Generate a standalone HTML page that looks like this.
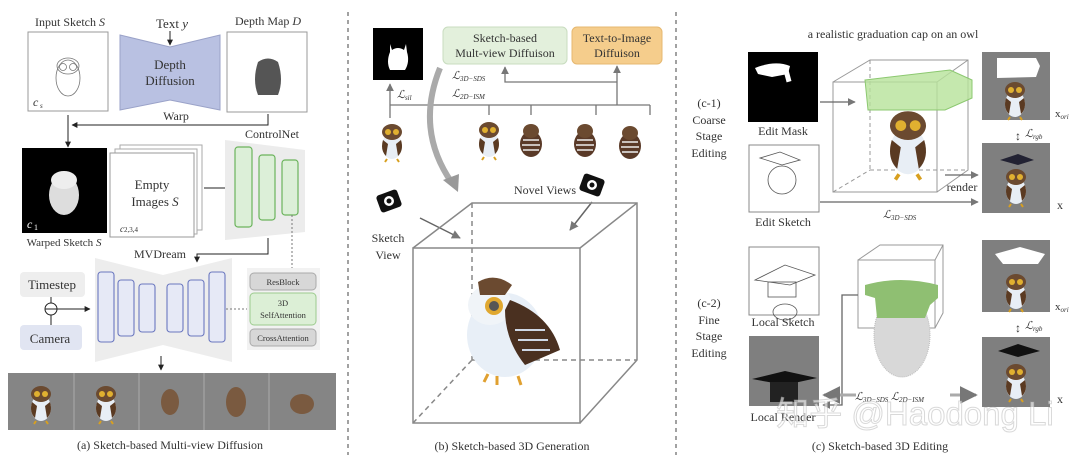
<!DOCTYPE html>
<html><head><meta charset="utf-8"><style>
body{margin:0;background:#fff;width:1080px;height:462px;overflow:hidden}
svg{display:block}
text{font-family:"Liberation Serif",serif;fill:#333}
</style></head><body>
<svg width="1080" height="462" viewBox="0 0 1080 462" xmlns="http://www.w3.org/2000/svg">
<defs>
<marker id="ar" viewBox="0 0 10 10" refX="9" refY="5" markerWidth="6" markerHeight="6" orient="auto"><path d="M0,0L10,5L0,10z" fill="#222"/></marker>
<marker id="ag" viewBox="0 0 10 10" refX="9" refY="5" markerWidth="6" markerHeight="6" orient="auto"><path d="M0,0L10,5L0,10z" fill="#777"/></marker>
<g id="owl">
<ellipse cx="0" cy="6" rx="10" ry="13" fill="#e8eef5"/>
<ellipse cx="0" cy="-8" rx="10" ry="8" fill="#6b4a30"/>
<circle cx="-4" cy="-8" r="3" fill="#e0b030"/><circle cx="4" cy="-8" r="3" fill="#e0b030"/>
<path d="M-9,0 Q-12,10 -6,16 L-4,4z" fill="#5a3a22"/><path d="M9,0 Q12,10 6,16 L4,4z" fill="#5a3a22"/>
<path d="M-5,19 l-2,3 M5,19 l2,3" stroke="#d8a020" stroke-width="2"/>
</g>
<g id="owlb">
<ellipse cx="0" cy="4" rx="11" ry="13" fill="#5a3a28"/>
<path d="M-8,0 h16 M-9,5 h18 M-8,10 h16" stroke="#eee" stroke-width="1.5"/>
<ellipse cx="0" cy="-9" rx="8" ry="7" fill="#6b4a30"/>
</g>
</defs>

<line x1="348" y1="12" x2="348" y2="455" stroke="#444" stroke-dasharray="4,4"/>
<line x1="676" y1="12" x2="676" y2="455" stroke="#444" stroke-dasharray="4,4"/>

<!-- ===== Panel (a) ===== -->
<text x="70" y="26" font-size="12" text-anchor="middle">Input Sketch <tspan font-style="italic">S</tspan></text>
<rect x="28" y="32" width="80" height="79" fill="#fff" stroke="#999"/>
<g fill="none" stroke="#777" stroke-width="0.8">
<ellipse cx="68" cy="78" rx="12" ry="18"/><ellipse cx="68" cy="66" rx="11" ry="8"/>
<circle cx="63" cy="67" r="3.5"/><circle cx="73" cy="67" r="3.5"/></g>
<text x="33" y="106" font-size="12" font-style="italic">c</text><text x="40" y="108" font-size="7" font-style="italic">s</text>

<text x="172" y="28" font-size="13" text-anchor="middle">Text <tspan font-style="italic">y</tspan></text>
<line x1="170" y1="31" x2="170" y2="45" stroke="#222" marker-end="url(#ar)"/>
<path d="M120,35 L170,47 L220,35 L220,110 L170,100 L120,110Z" fill="#b9c1e2" stroke="#9aa2c8"/>
<text x="170" y="69" font-size="13" text-anchor="middle">Depth</text>
<text x="170" y="85" font-size="13" text-anchor="middle">Diffusion</text>

<text x="268" y="25" font-size="12" text-anchor="middle">Depth Map <tspan font-style="italic">D</tspan></text>
<rect x="227" y="32" width="80" height="80" fill="#fff" stroke="#999"/>
<path d="M258,62 Q268,55 278,62 Q284,80 278,95 L258,95 Q252,80 258,62Z" fill="#555"/>

<text x="176" y="120" font-size="12" text-anchor="middle">Warp</text>
<polyline points="268,114 268,125 72,125" fill="none" stroke="#222" marker-end="url(#ar)"/>
<line x1="68" y1="115" x2="68" y2="147" stroke="#222" marker-end="url(#ar)"/>

<rect x="22" y="148" width="85" height="85" fill="#000"/>
<ellipse cx="64" cy="195" rx="15" ry="20" fill="#ddd"/><ellipse cx="64" cy="180" rx="13" ry="9" fill="#eee"/>
<text x="27" y="228" font-size="12" style="fill:#fff" font-style="italic">c</text><text x="34" y="230" font-size="8" style="fill:#fff">1</text>
<text x="64" y="246" font-size="11" text-anchor="middle">Warped Sketch <tspan font-style="italic">S</tspan></text>

<rect x="120" y="145" width="82" height="85" fill="#fff" stroke="#aaa"/>
<rect x="115" y="149" width="82" height="85" fill="#fff" stroke="#aaa"/>
<rect x="110" y="153" width="84" height="84" fill="#fff" stroke="#999"/>
<text x="152" y="189" font-size="13" text-anchor="middle">Empty</text>
<text x="155" y="206" font-size="13" text-anchor="middle">Images <tspan font-style="italic">S</tspan></text>
<text x="120" y="232" font-size="9" font-style="italic">c<tspan font-size="7" font-style="normal">2,3,4</tspan></text>
<line x1="204" y1="188" x2="231" y2="188" stroke="#222" marker-end="url(#ar)"/>

<text x="272" y="138" font-size="12" text-anchor="middle">ControlNet</text>
<path d="M225,140 L305,150 L305,232 L225,240Z" fill="#ececec"/>
<g fill="#dcefd8" stroke="#6bb35c" stroke-width="1.2">
<rect x="235" y="147" width="17" height="80" rx="3"/><rect x="259" y="155" width="16" height="65" rx="3"/><rect x="282" y="160" width="16" height="55" rx="3"/></g>
<polyline points="268,238 268,254 197,254 197,262" fill="none" stroke="#222" marker-end="url(#ar)"/>
<text x="160" y="258" font-size="12" text-anchor="middle">MVDream</text>
<line x1="292" y1="215" x2="292" y2="268" stroke="#777" stroke-dasharray="2,2"/>

<path d="M95,258 L163,275 L232,258 L232,362 L163,345 L95,362Z" fill="#ededed"/>
<g fill="#e6e9f6" stroke="#6b78bf" stroke-width="1.1">
<rect x="98" y="272" width="16" height="70" rx="3"/><rect x="118" y="280" width="16" height="56" rx="3"/><rect x="139" y="284" width="16" height="48" rx="3"/>
<rect x="167" y="284" width="16" height="48" rx="3"/><rect x="188" y="280" width="16" height="56" rx="3"/><rect x="209" y="272" width="16" height="70" rx="3"/></g>
<rect x="20" y="272" width="65" height="25" rx="4" fill="#eee"/>
<text x="52" y="289" font-size="13" text-anchor="middle">Timestep</text>
<rect x="20" y="325" width="62" height="25" rx="4" fill="#e1e5f2"/>
<text x="50" y="343" font-size="13" text-anchor="middle">Camera</text>
<line x1="51" y1="297" x2="51" y2="325" stroke="#222"/>
<circle cx="51" cy="309" r="6" fill="#fff" stroke="#222"/>
<line x1="45" y1="309" x2="57" y2="309" stroke="#222"/>
<line x1="57" y1="309" x2="90" y2="309" stroke="#222" marker-end="url(#ar)"/>
<line x1="226" y1="309" x2="248" y2="309" stroke="#777" stroke-dasharray="2,2"/>
<rect x="247" y="268" width="73" height="82" fill="#f2f2f2"/>
<rect x="250" y="273" width="66" height="17" rx="4" fill="#d7d7d7" stroke="#aaa"/>
<text x="283" y="285" font-size="8.5" text-anchor="middle">ResBlock</text>
<rect x="250" y="293" width="66" height="32" rx="4" fill="#dcefd6" stroke="#9ccb8e"/>
<text x="283" y="306" font-size="8.5" text-anchor="middle">3D</text>
<text x="283" y="318" font-size="8.5" text-anchor="middle">SelfAttention</text>
<rect x="250" y="329" width="66" height="17" rx="4" fill="#d7d7d7" stroke="#aaa"/>
<text x="283" y="341" font-size="8.5" text-anchor="middle">CrossAttention</text>
<line x1="161" y1="356" x2="161" y2="370" stroke="#222" marker-end="url(#ar)"/>

<rect x="8" y="373" width="328" height="57" fill="#858585"/>
<g stroke="#aaa"><line x1="74" y1="373" x2="74" y2="430"/><line x1="139" y1="373" x2="139" y2="430"/><line x1="204" y1="373" x2="204" y2="430"/><line x1="269" y1="373" x2="269" y2="430"/></g>
<use href="#owl" x="41" y="402"/>
<use href="#owl" x="106" y="402"/>
<g fill="#7a5a40"><ellipse cx="170" cy="402" rx="9" ry="13"/><ellipse cx="236" cy="402" rx="10" ry="15"/><ellipse cx="302" cy="404" rx="12" ry="10"/></g>
<text x="170" y="449" font-size="12" text-anchor="middle">(a) Sketch-based Multi-view Diffusion</text>

<!-- ===== Panel (b) ===== -->
<rect x="373" y="28" width="50" height="52" fill="#000"/>
<path d="M390,44 l2,6 Q398,46 404,50 l2,-6 l1,8 Q410,62 405,70 l-15,0 Q386,62 390,52Z" fill="#fff"/>
<rect x="443" y="27" width="124" height="37" rx="5" fill="#e3f0dc" stroke="#c8dcbf"/>
<text x="505" y="42" font-size="12" text-anchor="middle">Sketch-based</text>
<text x="505" y="57" font-size="12" text-anchor="middle">Mult-view Diffuison</text>
<rect x="572" y="27" width="90" height="37" rx="5" fill="#f5cd8c" stroke="#e6b870"/>
<text x="617" y="42" font-size="12" text-anchor="middle">Text-to-Image</text>
<text x="617" y="57" font-size="12" text-anchor="middle">Diffuison</text>
<g stroke="#777" fill="none" stroke-width="1.3">
<line x1="390" y1="105" x2="650" y2="105"/>
<line x1="390" y1="118" x2="390" y2="84" marker-end="url(#ag)"/>
<line x1="489" y1="105" x2="489" y2="115"/><line x1="531" y1="105" x2="531" y2="115"/><line x1="596" y1="105" x2="596" y2="115"/><line x1="650" y1="105" x2="650" y2="115"/>
<line x1="617" y1="105" x2="617" y2="66" marker-end="url(#ag)"/>
<polyline points="617,82 505,82 505,67" marker-end="url(#ag)"/>
</g>
<text x="397" y="98" font-size="11" font-style="italic">ℒ<tspan font-size="7" dy="2">sil</tspan></text>
<text x="452" y="79" font-size="11" font-style="italic">ℒ<tspan font-size="7" dy="2">3D−SDS</tspan></text>
<text x="452" y="97" font-size="11" font-style="italic">ℒ<tspan font-size="7" dy="2">2D−ISM</tspan></text>
<path d="M440,68 Q415,130 452,183" fill="none" stroke="#aaa" stroke-width="6"/>
<path d="M443,180 L458,192 L459,174Z" fill="#999"/>
<use href="#owl" x="392" y="140"/>
<use href="#owl" x="489" y="138"/>
<use href="#owlb" x="531" y="140"/>
<use href="#owlb" x="585" y="140"/>
<use href="#owlb" x="630" y="142"/>
<g><rect x="378" y="192" width="22" height="18" rx="3" fill="#111" transform="rotate(-20 389 201)"/><circle cx="389" cy="201" r="5" fill="#fff"/><circle cx="389" cy="201" r="2.5" fill="#111"/></g>
<g><rect x="581" y="176" width="22" height="18" rx="3" fill="#111" transform="rotate(20 592 185)"/><circle cx="592" cy="185" r="5" fill="#fff"/><circle cx="592" cy="185" r="2.5" fill="#111"/></g>
<text x="545" y="194" font-size="12" text-anchor="middle">Novel Views</text>
<text x="388" y="242" font-size="12" text-anchor="middle">Sketch</text>
<text x="388" y="259" font-size="12" text-anchor="middle">View</text>
<line x1="420" y1="218" x2="460" y2="238" stroke="#666" stroke-width="1.5" marker-end="url(#ag)"/>
<line x1="592" y1="202" x2="570" y2="230" stroke="#666" stroke-width="1.5" marker-end="url(#ag)"/>
<g stroke="#888" stroke-width="1.5" fill="none">
<rect x="413" y="248" width="167" height="175"/>
<polyline points="413,248 472,203 637,203 637,360 580,423"/>
<line x1="580" y1="248" x2="637" y2="203"/>
<g stroke-dasharray="5,4"><line x1="472" y1="203" x2="472" y2="360"/><line x1="472" y1="360" x2="637" y2="360"/><line x1="413" y1="423" x2="472" y2="360"/></g>
</g>
<g>
<ellipse cx="505" cy="335" rx="38" ry="42" fill="#e8eff7"/>
<ellipse cx="490" cy="305" rx="22" ry="20" fill="#f0f4f8"/>
<path d="M510,300 Q550,315 560,350 L525,365 Q505,340 505,310Z" fill="#4a3020"/>
<path d="M515,330 h30 M518,340 h30 M522,350 h28" stroke="#cfd8e6" stroke-width="2"/>
<path d="M478,282 Q495,272 512,285 L505,295 L480,295Z" fill="#6b4a30"/>
<circle cx="494" cy="306" r="9" fill="#e0a830"/><circle cx="494" cy="306" r="5" fill="#555"/>
<path d="M488,374 l-4,8 M497,376 l0,9 M518,376 l3,9" stroke="#e0a030" stroke-width="3"/>
</g>
<text x="512" y="450" font-size="12" text-anchor="middle">(b) Sketch-based 3D Generation</text>

<!-- ===== Panel (c) ===== -->
<text x="893" y="38" font-size="12" text-anchor="middle">a realistic graduation cap on an owl</text>
<g font-size="12" text-anchor="middle">
<text x="709" y="107">(c-1)</text><text x="709" y="124">Coarse</text><text x="709" y="140">Stage</text><text x="709" y="157">Editing</text>
<text x="709" y="307">(c-2)</text><text x="709" y="324">Fine</text><text x="709" y="340">Stage</text><text x="709" y="357">Editing</text>
</g>
<rect x="748" y="52" width="70" height="70" fill="#000"/>
<path d="M755,68 Q775,60 790,66 L788,74 L772,77 L758,74Z" fill="#fff"/><rect x="785" y="70" width="5" height="12" fill="#fff" transform="rotate(-15 787 76)"/>
<text x="783" y="135" font-size="12" text-anchor="middle">Edit Mask</text>
<rect x="749" y="145" width="70" height="67" fill="#fff" stroke="#888"/>
<g fill="none" stroke="#555" stroke-width="0.8"><path d="M760,158 L780,152 L800,160 L782,165Z"/><ellipse cx="782" cy="180" rx="14" ry="14"/></g>
<text x="783" y="226" font-size="12" text-anchor="middle">Edit Sketch</text>
<g stroke="#999" fill="none">
<rect x="833" y="82" width="104" height="110"/>
<polyline points="833,82 870,60 968,60 968,170 937,192"/><line x1="937" y1="82" x2="968" y2="60"/>
<g stroke-dasharray="4,3"><line x1="870" y1="60" x2="870" y2="170"/><line x1="870" y1="170" x2="968" y2="170"/><line x1="833" y1="192" x2="870" y2="170"/></g>
</g>
<use href="#owl" transform="translate(908,140) scale(1.8)"/>
<path d="M865,80 L950,70 L972,80 L972,98 L945,110 L868,110Z" fill="#b6e29a" fill-opacity="0.8" stroke="#8cc870"/>
<line x1="820" y1="102" x2="855" y2="102" stroke="#666" stroke-width="1.3" marker-end="url(#ag)"/>
<line x1="945" y1="175" x2="978" y2="175" stroke="#666" stroke-width="1.3" marker-end="url(#ag)"/>
<text x="962" y="191" font-size="12" text-anchor="middle">render</text>
<line x1="820" y1="202" x2="978" y2="202" stroke="#666" stroke-width="1.3" marker-end="url(#ag)"/>
<text x="883" y="218" font-size="11" font-style="italic">ℒ<tspan font-size="7" dy="2">3D−SDS</tspan></text>

<rect x="982" y="52" width="68" height="68" fill="#7f7f7f"/>
<path d="M997,58 L1036,58 L1040,66 L1036,77 L997,78Z" fill="#fff"/>
<use href="#owl" x="1015" y="98"/>
<text x="1055" y="117" font-size="11">x<tspan font-size="7" font-style="italic" dy="2">ori</tspan></text>
<text x="1018" y="140" font-size="12" text-anchor="middle">↕</text>
<text x="1025" y="137" font-size="11" font-style="italic">ℒ<tspan font-size="7" dy="2">rgb</tspan></text>
<rect x="982" y="143" width="68" height="70" fill="#7f7f7f"/>
<path d="M1000,160 L1018,154 L1034,160 L1018,165Z" fill="#223"/>
<use href="#owl" x="1016" y="185"/>
<text x="1057" y="209" font-size="12">x</text>

<rect x="749" y="247" width="70" height="68" fill="#fff" stroke="#888"/>
<g fill="none" stroke="#555" stroke-width="0.8"><path d="M755,280 L785,265 L815,275 L790,285Z"/><rect x="768" y="282" width="28" height="15"/><ellipse cx="785" cy="312" rx="12" ry="8"/></g>
<text x="783" y="326" font-size="12" text-anchor="middle">Local Sketch</text>
<rect x="749" y="336" width="70" height="70" fill="#7f7f7f"/>
<path d="M752,379 L785,371 L817,378 L785,385Z" fill="#111"/><rect x="770" y="382" width="28" height="20" fill="#222"/>
<text x="783" y="421" font-size="12" text-anchor="middle">Local Render</text>
<g stroke="#999" fill="none">
<rect x="858" y="260" width="77" height="68"/>
<polyline points="858,260 880,245 943,245 943,313 935,328"/><line x1="935" y1="260" x2="943" y2="245"/>
</g>
<ellipse cx="902" cy="335" rx="28" ry="42" fill="#d8d8d8" stroke="#bbb" stroke-dasharray="1,1"/>
<path d="M865,285 Q900,275 938,285 L938,298 L930,305 L925,318 L877,318 L875,298 L865,295Z" fill="#8fbf72"/>
<polyline points="858,295 842,295 842,405 823,405" fill="none" stroke="#666" stroke-width="1.3" marker-end="url(#ag)"/>
<rect x="982" y="240" width="68" height="72" fill="#7f7f7f"/>
<path d="M995,254 L1020,247 L1045,254 L1038,264 L1003,264Z" fill="#fff"/>
<use href="#owl" x="1016" y="290"/>
<text x="1055" y="310" font-size="11">x<tspan font-size="7" font-style="italic" dy="2">ori</tspan></text>
<text x="1018" y="332" font-size="12" text-anchor="middle">↕</text>
<text x="1025" y="329" font-size="11" font-style="italic">ℒ<tspan font-size="7" dy="2">rgb</tspan></text>
<rect x="982" y="337" width="68" height="70" fill="#7f7f7f"/>
<path d="M998,351 L1018,344 L1040,351 L1018,357Z" fill="#111"/>
<use href="#owl" x="1016" y="380"/>
<text x="1057" y="403" font-size="12">x</text>
<line x1="856" y1="395" x2="824" y2="395" stroke="#aaa" stroke-width="3" marker-end="url(#ag)"/>
<line x1="950" y1="395" x2="976" y2="395" stroke="#aaa" stroke-width="3" marker-end="url(#ag)"/>
<text x="855" y="400" font-size="11" font-style="italic" fill="#555">ℒ<tspan font-size="7" dy="2">3D−SDS</tspan><tspan dy="-2" font-size="11"> ℒ</tspan><tspan font-size="7" dy="2">2D−ISM</tspan></text>
<text x="915" y="425" font-size="33" text-anchor="middle" style="fill:#fff;fill-opacity:0.6;stroke:#aaa;stroke-opacity:0.45;stroke-width:1;font-family:'Liberation Sans','Noto Sans CJK SC',sans-serif">知乎 @Haodong Li</text>
<text x="880" y="450" font-size="12" text-anchor="middle">(c) Sketch-based 3D Editing</text>
</svg>
</body></html>
